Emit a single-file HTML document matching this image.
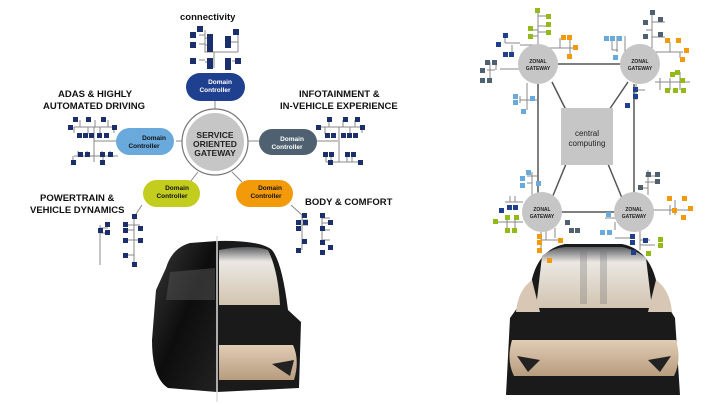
<!DOCTYPE html>
<html><head><style>
html,body{margin:0;padding:0;background:#fff}
svg{display:block;font-family:"Liberation Sans",Arial,sans-serif}
</style></head><body>
<svg width="720" height="405" viewBox="0 0 720 405" xmlns="http://www.w3.org/2000/svg">
<defs>
<linearGradient id="bk" x1="0" y1="0" x2="1" y2="1"><stop offset="0" stop-color="#3a3a3a"/><stop offset=".5" stop-color="#0d0d0d"/><stop offset="1" stop-color="#222"/></linearGradient>
<linearGradient id="bg" x1="0" y1="0" x2="0" y2="1"><stop offset="0" stop-color="#e0cdb5"/><stop offset="1" stop-color="#b89c7e"/></linearGradient>
<linearGradient id="cab" x1="0" y1="0" x2="0" y2="1"><stop offset="0" stop-color="#5b5e62"/><stop offset=".25" stop-color="#ebe8e3"/><stop offset="1" stop-color="#d2c4b0"/></linearGradient>
</defs>
<g stroke="#888" stroke-width="1" fill="none">
<line x1="215" y1="100" x2="215" y2="112"/><line x1="176" y1="141" x2="182" y2="141"/><line x1="248" y1="141" x2="259" y2="141"/>
<line x1="198" y1="172" x2="190" y2="182"/><line x1="232" y1="172" x2="242" y2="182"/>
<path d="M214 68V52H238M214 52H205V30M205 35H199M205 38H210M205 45H210M205 44H199M205 60H199M205 62H210M238 52V31M238 42H231M238 61H232"/>
<path d="M74 127H114M74 127V133M80 127V120M88 127V134M95 127V120M100 127V134M108 127V120M114 127V133M94 127V162M74 156H118M78 156V151M87 156V151M102 156V151M110 156V151M73 156V162M103 156V162"/>
<path d="M319 127H362M329 127V120M325 127V134M343 127V120M339 127V134M350 127V134M355 127V120M362 127V133M339 127V162M326 162H362M326 156V162M331 156V162M347 156V162M352 156V162"/>
<line x1="316" y1="141" x2="338" y2="141"/>
<line x1="118" y1="141" x2="94" y2="141"/>
<path d="M142 205L134 217M134 217V265M125 225H140M125 230H134M125 240H140M125 255H134M100 225V265M100 228H108M100 233H108"/>
<path d="M291 205L302 215M302 215V250M302 220H308M302 225H308M322 215V245M322 218H330M322 223H330M322 230H330M322 240H330"/>
</g>
<g fill="#1a2f6b">
<rect x="197" y="26" width="6" height="6"/><rect x="190" y="32" width="6" height="6"/><rect x="207" y="34" width="6" height="6"/><rect x="190" y="42" width="6" height="6"/><rect x="207" y="40" width="6" height="6"/><rect x="207" y="46" width="6" height="6"/><rect x="190" y="58" width="6" height="6"/><rect x="207" y="58" width="6" height="6"/><rect x="207" y="63" width="6" height="6"/><rect x="233" y="29" width="6" height="6"/><rect x="225" y="36" width="6" height="6"/><rect x="225" y="42" width="6" height="6"/><rect x="235" y="58" width="6" height="6"/><rect x="225" y="58" width="6" height="6"/><rect x="225" y="64" width="6" height="6"/>
<rect x="73" y="117" width="5" height="5"/><rect x="86" y="117" width="5" height="5"/><rect x="101" y="117" width="5" height="5"/><rect x="68" y="125" width="5" height="5"/><rect x="112" y="125" width="5" height="5"/><rect x="77" y="133" width="5" height="5"/><rect x="83" y="133" width="5" height="5"/><rect x="89" y="133" width="5" height="5"/><rect x="97" y="133" width="5" height="5"/><rect x="104" y="133" width="5" height="5"/><rect x="78" y="152" width="5" height="5"/><rect x="85" y="152" width="5" height="5"/><rect x="100" y="152" width="5" height="5"/><rect x="108" y="152" width="5" height="5"/><rect x="71" y="160" width="5" height="5"/><rect x="100" y="160" width="5" height="5"/>
<rect x="316" y="125" width="5" height="5"/><rect x="327" y="117" width="5" height="5"/><rect x="343" y="117" width="5" height="5"/><rect x="355" y="117" width="5" height="5"/><rect x="360" y="125" width="5" height="5"/><rect x="325" y="133" width="5" height="5"/><rect x="331" y="133" width="5" height="5"/><rect x="341" y="133" width="5" height="5"/><rect x="347" y="133" width="5" height="5"/><rect x="353" y="133" width="5" height="5"/><rect x="323" y="152" width="5" height="5"/><rect x="329" y="152" width="5" height="5"/><rect x="345" y="152" width="5" height="5"/><rect x="351" y="152" width="5" height="5"/><rect x="328" y="160" width="5" height="5"/><rect x="358" y="160" width="5" height="5"/>
<rect x="132" y="214" width="5" height="5"/><rect x="123" y="222" width="5" height="5"/><rect x="138" y="226" width="5" height="5"/><rect x="123" y="228" width="5" height="5"/><rect x="123" y="238" width="5" height="5"/><rect x="138" y="238" width="5" height="5"/><rect x="123" y="253" width="5" height="5"/><rect x="132" y="262" width="5" height="5"/><rect x="105" y="222" width="5" height="5"/><rect x="98" y="228" width="5" height="5"/><rect x="105" y="230" width="5" height="5"/>
<rect x="302" y="213" width="5" height="5"/><rect x="296" y="220" width="5" height="5"/><rect x="303" y="220" width="5" height="5"/><rect x="296" y="226" width="5" height="5"/><rect x="320" y="213" width="5" height="5"/><rect x="328" y="220" width="5" height="5"/><rect x="320" y="226" width="5" height="5"/><rect x="302" y="239" width="5" height="5"/><rect x="296" y="248" width="5" height="5"/><rect x="320" y="240" width="5" height="5"/><rect x="328" y="245" width="5" height="5"/><rect x="320" y="250" width="5" height="5"/>
</g>
<circle cx="215" cy="142" r="33" fill="#fff" stroke="#777" stroke-width="1.2"/>
<circle cx="215" cy="142" r="29" fill="#c6c6c6"/>
<g font-size="8.5" font-weight="bold" text-anchor="middle" fill="#222"><text x="215" y="138">SERVICE</text><text x="215" y="147">ORIENTED</text><text x="215" y="156">GATEWAY</text></g>
<rect x="186" y="73" width="59" height="28" rx="14" fill="#1f3f8f"/>
<rect x="116" y="128" width="58" height="27" rx="13.5" fill="#6aa9dc"/>
<rect x="259" y="129" width="58" height="26" rx="13" fill="#4f6170"/>
<rect x="143" y="180" width="57" height="27" rx="13.5" fill="#c3cd1e"/>
<rect x="236" y="180" width="57" height="27" rx="13.5" fill="#f39a0a"/>
<g font-size="6.5" font-weight="bold" text-anchor="middle">
<text x="220" y="84" fill="#fff">Domain</text><text x="215" y="92" fill="#fff">Controller</text>
<text x="154" y="140" fill="#111">Domain</text><text x="144" y="148" fill="#111">Controller</text>
<text x="292" y="141" fill="#fff">Domain</text><text x="287" y="149" fill="#fff">Controller</text>
<text x="177" y="190" fill="#111">Domain</text><text x="172" y="198" fill="#111">Controller</text>
<text x="270" y="190" fill="#111">Domain</text><text x="266" y="198" fill="#111">Controller</text>
</g>
<g font-size="9.5" font-weight="bold" fill="#111">
<text x="180" y="20">connectivity</text>
<text x="58" y="97">ADAS &amp; HIGHLY</text><text x="43" y="109">AUTOMATED DRIVING</text>
<text x="299" y="97">INFOTAINMENT &amp;</text><text x="280" y="109">IN-VEHICLE EXPERIENCE</text>
<text x="40" y="201">POWERTRAIN &amp;</text><text x="30" y="213">VEHICLE DYNAMICS</text>
<text x="305" y="205">BODY &amp; COMFORT</text>
</g>

<!-- left car -->
<path d="M166 268Q172 248 190 243L217 241V392L168 388Q152 378 152 340L156 290Z" fill="url(#bk)"/>
<path d="M170 272L215 268V300L166 300Z" fill="#555" opacity=".5"/>
<path d="M217 241Q260 240 272 250Q282 262 288 310L301 322L299 388L217 392Z" fill="#1a1a1a"/>
<path d="M219 250Q250 244 268 250Q278 270 280 305H219Z" fill="url(#cab)"/>
<path d="M219 345H293Q300 360 294 380H219Z" fill="url(#bg)"/>
<path d="M272 364L294 360L290 376Z" fill="#222"/>
<line x1="217" y1="236" x2="217" y2="402" stroke="#ddd" stroke-width="1.5"/>

<!-- right car -->
<path d="M530 290Q535 250 565 244H622Q652 250 658 290L675 318L680 395L506 395L510 318Z" fill="#1a1a1a"/>
<path d="M516 312Q518 290 532 280L540 312Z" fill="#d8c7b4"/><path d="M672 312Q670 290 656 280L648 312Z" fill="#d8c7b4"/>
<path d="M542 256Q552 248 565 247H622Q636 250 646 258L652 308H536Z" fill="url(#cab)"/>
<rect x="580" y="249" width="7" height="55" fill="#777" opacity=".35"/>
<rect x="600" y="249" width="7" height="55" fill="#777" opacity=".35"/>
<path d="M512 340H676Q682 360 674 376H514Q506 360 512 340Z" fill="url(#bg)"/>
<path d="M517 356L540 360L528 372Z" fill="#222"/><path d="M671 356L648 360L660 372Z" fill="#222"/>

<g stroke="#555" stroke-width="1.5" fill="none">
<path d="M548 64H632M538 84V200M634 84V200M553 212H624"/>
<path d="M552 82L566 110M628 82L609 110M552 198L566 164M622 198L608 164"/>
</g>
<g stroke="#888" stroke-width="1" fill="none">
<path d="M538 44V10M538 16H547M538 26H547M538 32H547M538 36H530M538 30H530M538 45H520M505 43H520M505 43V35M512 45V52M548 48H572M560 48V38M570 48V40M570 48H575M570 48V56"/>
<path d="M520 69H500M490 62V80M487 70H495M496 62V70"/>
<path d="M527 83L527 110M520 100H537M520 96V103"/>
<path d="M652 50V10M652 22H665M652 37H665M652 30H646M650 52H683M670 52V42M680 52V58M655 82H690M670 78V90M680 72V90M660 78V90"/>
<path d="M618 50H612M612 36V50M617 36V52M625 36V56"/>
<path d="M636 84V100M636 90H645M636 97H638"/>
<path d="M532 196V172M527 176H537M527 183H532"/>
<path d="M523 202H505M510 196V202M515 196V202M523 222H495M507 216V230M515 216V230"/>
<path d="M541 232V248M541 240H560M546 228V240M555 228V238"/>
<path d="M648 195V170M645 176H655M645 182H655M640 188H648M650 210H690M675 200V215M670 205V215"/>
<path d="M615 218H605M615 222V230M615 238H630M640 228V250M640 240H650M640 245H655"/>
</g>
<g>
<g fill="#94ba1a"><rect x="535" y="8" width="5" height="5"/><rect x="546" y="14" width="5" height="5"/><rect x="546" y="22" width="5" height="5"/><rect x="528" y="26" width="5" height="5"/><rect x="546" y="30" width="5" height="5"/><rect x="528" y="34" width="5" height="5"/>
<rect x="670" y="72" width="5" height="5"/><rect x="680" y="78" width="5" height="5"/><rect x="665" y="88" width="5" height="5"/><rect x="673" y="88" width="5" height="5"/><rect x="681" y="88" width="5" height="5"/><rect x="675" y="70" width="5" height="5"/>
<rect x="493" y="219" width="5" height="5"/><rect x="505" y="215" width="5" height="5"/><rect x="514" y="215" width="5" height="5"/><rect x="505" y="228" width="5" height="5"/><rect x="512" y="228" width="5" height="5"/>
<rect x="658" y="237" width="5" height="5"/><rect x="658" y="243" width="5" height="5"/><rect x="646" y="251" width="5" height="5"/></g>
<g fill="#f39a0a"><rect x="561" y="35" width="5" height="5"/><rect x="567" y="35" width="5" height="5"/><rect x="573" y="45" width="5" height="5"/><rect x="567" y="54" width="5" height="5"/>
<rect x="665" y="38" width="5" height="5"/><rect x="676" y="38" width="5" height="5"/><rect x="684" y="48" width="5" height="5"/><rect x="680" y="57" width="5" height="5"/>
<rect x="537" y="234" width="5" height="5"/><rect x="537" y="240" width="5" height="5"/><rect x="537" y="248" width="5" height="5"/><rect x="558" y="238" width="5" height="5"/><rect x="547" y="258" width="5" height="5"/>
<rect x="672" y="208" width="5" height="5"/><rect x="667" y="196" width="5" height="5"/><rect x="682" y="196" width="5" height="5"/><rect x="688" y="206" width="5" height="5"/><rect x="681" y="215" width="5" height="5"/></g>
<g fill="#1f3f8f"><rect x="503" y="33" width="5" height="5"/><rect x="496" y="42" width="5" height="5"/><rect x="503" y="52" width="5" height="5"/><rect x="509" y="52" width="5" height="5"/>
<rect x="633" y="87" width="5" height="5"/><rect x="633" y="94" width="5" height="5"/><rect x="625" y="103" width="5" height="5"/>
<rect x="507" y="205" width="5" height="5"/><rect x="513" y="205" width="5" height="5"/><rect x="499" y="208" width="5" height="5"/>
<rect x="630" y="234" width="5" height="5"/><rect x="630" y="240" width="5" height="5"/><rect x="643" y="238" width="5" height="5"/><rect x="631" y="250" width="5" height="5"/></g>
<g fill="#4f6170"><rect x="485" y="60" width="5" height="5"/><rect x="492" y="60" width="5" height="5"/><rect x="480" y="68" width="5" height="5"/><rect x="480" y="78" width="5" height="5"/><rect x="487" y="78" width="5" height="5"/>
<rect x="650" y="10" width="5" height="5"/><rect x="658" y="17" width="5" height="5"/><rect x="643" y="20" width="5" height="5"/><rect x="643" y="34" width="5" height="5"/><rect x="658" y="32" width="5" height="5"/>
<rect x="646" y="172" width="5" height="5"/><rect x="655" y="172" width="5" height="5"/><rect x="655" y="179" width="5" height="5"/><rect x="638" y="185" width="5" height="5"/>
<rect x="565" y="220" width="5" height="5"/><rect x="569" y="228" width="5" height="5"/><rect x="575" y="228" width="5" height="5"/></g>
<g fill="#6aa9dc"><rect x="604" y="36" width="5" height="5"/><rect x="610" y="36" width="5" height="5"/><rect x="617" y="36" width="5" height="5"/><rect x="613" y="55" width="5" height="5"/>
<rect x="513" y="94" width="5" height="5"/><rect x="513" y="100" width="5" height="5"/><rect x="530" y="96" width="5" height="5"/><rect x="521" y="109" width="5" height="5"/>
<rect x="526" y="170" width="5" height="5"/><rect x="520" y="176" width="5" height="5"/><rect x="536" y="181" width="5" height="5"/><rect x="520" y="183" width="5" height="5"/>
<rect x="606" y="212" width="5" height="5"/><rect x="600" y="230" width="5" height="5"/><rect x="607" y="230" width="5" height="5"/></g>
</g>
<g fill="#c6c6c6"><circle cx="538" cy="64" r="20"/><circle cx="640" cy="64" r="20"/><circle cx="542" cy="212" r="20"/><circle cx="634" cy="212" r="20"/></g>
<rect x="561" y="108" width="52" height="57" fill="#c6c6c6"/>
<g font-size="5" font-weight="bold" text-anchor="middle" fill="#222">
<text x="538" y="63">ZONAL</text><text x="538" y="70">GATEWAY</text>
<text x="640" y="63">ZONAL</text><text x="640" y="70">GATEWAY</text>
<text x="542" y="211">ZONAL</text><text x="542" y="218">GATEWAY</text>
<text x="634" y="211">ZONAL</text><text x="634" y="218">GATEWAY</text>
</g>
<g font-size="8" text-anchor="middle" fill="#222"><text x="587" y="136">central</text><text x="587" y="146">computing</text></g>
</svg>
</body></html>
